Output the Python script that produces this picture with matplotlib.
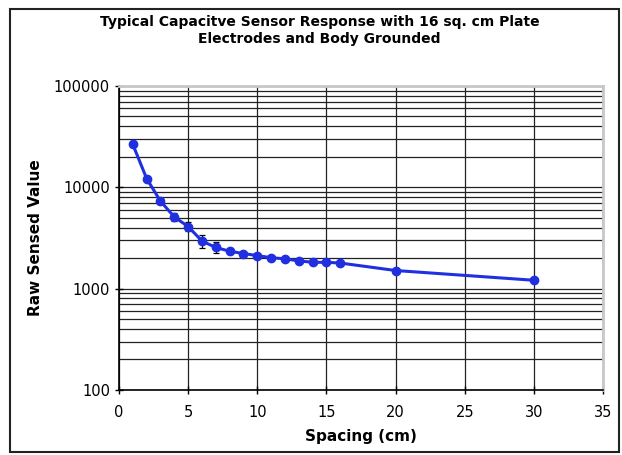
import matplotlib
matplotlib.use('Agg')
import matplotlib.pyplot as plt
from matplotlib.ticker import LogLocator, FixedLocator, NullFormatter
from matplotlib.patches import Rectangle

spacing = [1, 2, 3, 4, 5, 6, 7, 8, 9, 10, 11, 12, 13, 14, 15, 16, 20, 30]
raw_value = [26500, 12200, 7300, 5100, 4100, 2950, 2550, 2340, 2220, 2120,
             2020, 1970, 1880, 1820, 1820, 1790, 1510, 1210]
raw_err = [400, 250, 250, 450, 400, 420, 320, 150, 80, 60,
           50, 50, 40, 40, 40, 40, 40, 50]
x_ticks = [0, 5, 10, 15, 20, 25, 30, 35]
y_ticks = [100, 1000, 10000, 100000]

fig = plt.figure(figsize=(6.22, 4.55), dpi=100)
ax = fig.add_axes([0.1913, 0.1429, 0.7782, 0.6681])

ax.set_yscale('log')
ax.set_xlim(0, 35)
ax.set_ylim(100, 100000)

ax.errorbar(spacing, raw_value, yerr=raw_err, color='#2030e0', lw=2.2,
            marker='o', markersize=6, ecolor='black', elinewidth=0.9,
            capsize=2.5, capthick=0.9, zorder=3)

ax.xaxis.set_major_locator(FixedLocator(x_ticks))
ax.yaxis.set_major_locator(FixedLocator(y_ticks))
ax.yaxis.set_minor_locator(LogLocator(base=10, subs=range(2, 10)))
ax.yaxis.set_minor_formatter(NullFormatter())
ax.set_yticklabels([str(v) for v in y_ticks])

ax.grid(True, which='major', axis='both', color='#222222', lw=0.9)
ax.grid(True, which='minor', axis='y', color='#222222', lw=0.9)
ax.set_axisbelow(True)

ax.tick_params(axis='both', which='major', direction='inout', length=6,
               width=1, labelsize=10.5, color='black')
ax.tick_params(axis='x', which='major', pad=8)
ax.tick_params(axis='y', which='minor', length=0)
for side in ['left', 'bottom']:
    ax.spines[side].set_color('black')
    ax.spines[side].set_linewidth(1.2)
for side in ['top', 'right']:
    ax.spines[side].set_color('#c8c8c8')
    ax.spines[side].set_linewidth(2)

ax.set_xlabel('Spacing (cm)', fontsize=11, fontweight='bold', labelpad=6.5)
ax.set_ylabel('Raw Sensed Value', fontsize=11, fontweight='bold', labelpad=8)

fig.text(0.514, 0.933, 'Typical Capacitve Sensor Response with 16 sq. cm Plate\nElectrodes and Body Grounded',
         ha='center', va='center', fontsize=10, fontweight='bold', linespacing=1.2)

fig.patches.append(Rectangle((10 / 622, 3 / 455), 609 / 622, 443 / 455,
                             transform=fig.transFigure, fill=False,
                             edgecolor='#222222', lw=1.5))

fig.savefig('out.png', dpi=100)
